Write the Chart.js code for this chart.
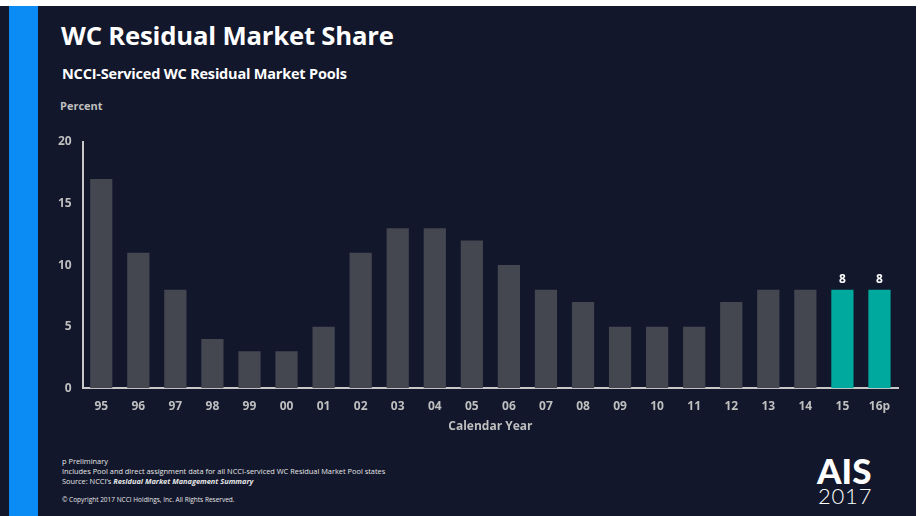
<!DOCTYPE html>
<html>
<head>
<meta charset="utf-8">
<script src="https://cdn.jsdelivr.net/npm/chart.js@4"></script>
<style>
  body { margin: 0; width: 924px; height: 516px; background: #ffffff; overflow: hidden; font-family: "Open Sans", sans-serif; }
  #slide { position: absolute; left: 0; top: 6px; width: 916px; height: 510px; background: #12172b; }
  #bar { position: absolute; left: 9px; top: 0; width: 29px; height: 510px; background: #0b8cf5; }
  #title { position: absolute; left: 61px; top: 18px; color: #fff; font-size: 25.7px; font-weight: bold; letter-spacing: -0.2px; }
  #sub { position: absolute; left: 62px; top: 64px; color: #fff; font-size: 14.5px; font-weight: bold; letter-spacing: -0.2px; }
  #unit { position: absolute; left: 60px; top: 98px; color: #bfbfbf; font-size: 11px; font-weight: bold; }
  #notes { position: absolute; left: 62px; top: 456px; color: #e6e6e6; font-size: 7.4px; line-height: 10px; }
  #copy { position: absolute; left: 62px; top: 495px; color: #e6e6e6; font-size: 6.5px; }
  #ais { position: absolute; left: 817px; top: 453px; color: #fff; font-family: Lato, sans-serif; font-size: 35px; font-weight: 900; line-height: 35px; }
  #yr { position: absolute; left: 818px; top: 484px; color: #fff; font-family: Lato, sans-serif; font-size: 22px; font-weight: 300; line-height: 24px; letter-spacing: 0.8px; }
  #chartBox { position: absolute; left: 0; top: 0; width: 924px; height: 516px; }
</style>
</head>
<body>
<div id="slide">
  <div id="bar"></div>
</div>
<div id="title">WC Residual Market Share</div>
<div id="sub">NCCI-Serviced WC Residual Market Pools</div>
<div id="unit">Percent</div>
<div id="notes">p Preliminary<br>Includes Pool and direct assignment data for all NCCI-serviced WC Residual Market Pool states<br>Source: NCCI’s <b><i>Residual Market Management Summary</i></b></div>
<div id="copy">© Copyright 2017 NCCI Holdings, Inc. All Rights Reserved.</div>
<div id="ais">AIS</div>
<div id="yr">2017</div>
<div id="chartBox"><canvas id="chart"></canvas></div>
<script>
const years = ["95", "96", "97", "98", "99", "00", "01", "02", "03", "04", "05", "06", "07", "08", "09", "10", "11", "12", "13", "14", "15", "16p"];
const share = [17, 11, 8, 4, 3, 3, 5, 11, 13, 13, 12, 10, 8, 7, 5, 5, 5, 7, 8, 8, 8, 8];
const labelled = ["15", "16p"];

const barColors = years.map(y => labelled.includes(y) ? "#00a99d" : "#444650");

// value labels above the highlighted bars
const topLabels = {
    id: "topLabels",
    afterDatasetsDraw(chart) {
        let ctx = chart.ctx;
        let meta = chart.getDatasetMeta(0);
        ctx.save();
        ctx.fillStyle = "#ffffff";
        ctx.font = "bold 12px 'Open Sans'";
        ctx.textAlign = "center";
        ctx.textBaseline = "bottom";
        meta.data.forEach((el, i) => {
            if (labelled.includes(years[i])) {
                ctx.fillText(share[i], el.x, el.y - 4);
            }
        });
        ctx.restore();
    }
};

new Chart(document.getElementById("chart"), {
    type: "bar",
    data: {
        labels: years,
        datasets: [{
            data: share,
            backgroundColor: barColors,
            borderWidth: 0,
            categoryPercentage: 1,
            barPercentage: 0.6
        }]
    },
    options: {
        responsive: true,
        maintainAspectRatio: false,
        animation: false,
        layout: { padding: { left: 55, top: 142, right: 26, bottom: 78 } },
        plugins: { legend: { display: false }, tooltip: { enabled: false } },
        scales: {
            x: {
                grid: { display: false },
                border: { color: "#c8c8c8", width: 2 },
                ticks: { color: "#bfbfbf", font: { family: "Open Sans", size: 12, weight: "bold" }, padding: 3 },
                title: { display: true, text: "Calendar Year", color: "#bfbfbf", font: { family: "Open Sans", size: 12, weight: "bold" }, padding: { top: 3 } }
            },
            y: {
                min: 0,
                max: 20,
                grid: { display: false },
                border: { color: "#c8c8c8", width: 2 },
                ticks: { stepSize: 5, color: "#bfbfbf", font: { family: "Open Sans", size: 12, weight: "bold" }, padding: 3 }
            }
        }
    },
    plugins: [topLabels]
});
</script>
</body>
</html>
